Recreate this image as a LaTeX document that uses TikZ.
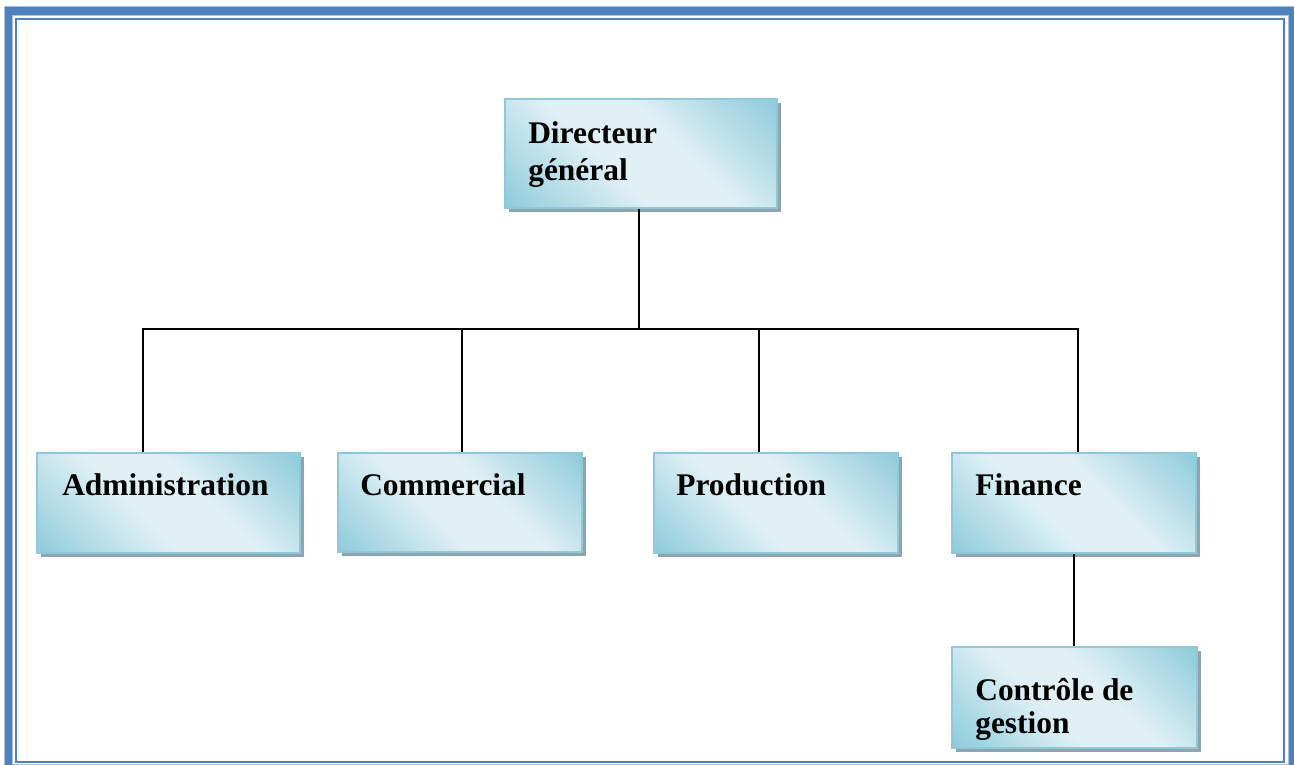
\documentclass[tikz,border=0pt]{standalone}
\usepackage{fontspec}
\setmainfont{Liberation Serif}
\usetikzlibrary{shadows,calc}

\definecolor{frameblue}{HTML}{4F81BD}
\definecolor{frameedge}{HTML}{A9C1E0}
\definecolor{boxdark}{HTML}{92CDDC}
\definecolor{boxlight}{HTML}{E0F0F5}
\definecolor{boxedge}{HTML}{8FC9D9}
\definecolor{boxshadow}{HTML}{8EA4AE}

% diagonal fill: darker toward two opposite corners, pale across the middle
\pgfdeclarehorizontalshading{orgshade}{100bp}{%
  color(0bp)=(boxdark); color(16bp)=(boxdark); color(42bp)=(boxlight);
  color(58bp)=(boxlight); color(84bp)=(boxdark); color(100bp)=(boxdark)}

\tikzset{
  orgbox/.style={draw=boxedge, line width=0.8pt,
    shading=orgshade, shading angle=45,
    drop shadow={shadow xshift=3pt, shadow yshift=-3pt, fill=boxshadow, opacity=1},
    inner sep=0pt},
  orgtext/.style={anchor=base west, inner sep=0pt, align=left,
    font=\fontsize{23.6pt}{27.75pt}\selectfont\bfseries},
  wire/.style={draw=black, line width=1.6pt},
}

\begin{document}
\begin{tikzpicture}[x=0.75pt, y=-0.75pt]
\useasboundingbox (0,0) rectangle (1294,764);
\clip (0,0) rectangle (1294,764);
\fill[white] (0,0) rectangle (1294,764);

% page frame: heavy outer band and thin inner rule
\draw[draw=frameedge, line width=0.75pt, double=frameblue, double distance=5.8pt]
  (8.5,11) rectangle (1292.5,768.5);
\draw[draw=frameblue, line width=1.9pt] (16,19) rectangle (1284,762);

% boxes
\node[orgbox, minimum width=204pt, minimum height=81.75pt] (dg)   at (641,153.5) {};
\node[orgbox, minimum width=197.25pt, minimum height=75pt] (adm)  at (168.5,503) {};
\node[orgbox, minimum width=183pt, minimum height=74.25pt] (com)  at (460,502.5) {};
\node[orgbox, minimum width=183pt, minimum height=75pt]    (prod) at (776,503) {};
\node[orgbox, minimum width=183pt, minimum height=75pt]    (fin)  at (1074,503) {};
\node[orgbox, minimum width=183.75pt, minimum height=75.75pt] (cg) at (1074.5,697.5) {};

% labels (two-line labels sit on the baseline of their last line)
\node[orgtext] (dgtxt)   at (528,180) {Directeur\\général};
\node[orgtext] (admtxt)  at (62,495)  {Administration};
\node[orgtext] (comtxt)  at (360,495) {Commercial};
\node[orgtext] (prodtxt) at (676,495) {Production};
\node[orgtext] (fintxt)  at (975,495) {Finance};
\node[orgtext, font=\fontsize{23.6pt}{24.5pt}\selectfont\bfseries] (cgtxt) at (975,733) {Contrôle de\\gestion};

% connectors
\coordinate (bus) at (639,329);
\coordinate (dgbot)   at ([xshift=-1.5pt]dg.south);
\coordinate (admtop)  at ([xshift=-19.1pt]adm.north);
\coordinate (comtop)  at ([xshift=1.5pt]com.north);
\coordinate (prodtop) at ([xshift=-12.75pt]prod.north);
\coordinate (fintop)  at ([xshift=3pt]fin.north);

\draw[wire] (dgbot) -- (dgbot |- bus);
\draw[wire] (admtop) |- (bus) -| (fintop);
\draw[wire] (comtop) -- (comtop |- bus);
\draw[wire] (prodtop) -- (prodtop |- bus);
\draw[wire] (fin.south) -- (fin.south |- cg.north);
\end{tikzpicture}
\end{document}
